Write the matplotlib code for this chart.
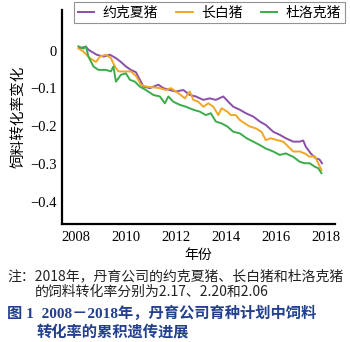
import matplotlib
matplotlib.use("Agg")
import matplotlib.pyplot as plt

# 饲料转化率累积遗传进展
yr_york = [2008.12, 2008.4, 2008.5, 2008.83, 2009.1, 2009.36, 2009.6, 2009.8, 2010.0, 2010.2,
           2010.4, 2010.56, 2010.7, 2010.96, 2011.3, 2011.5, 2011.76, 2012.0, 2012.3, 2012.56,
           2012.8, 2013.1, 2013.36, 2013.6, 2013.9, 2014.1, 2014.3, 2014.56, 2014.8, 2015.1,
           2015.36, 2015.6, 2015.9, 2016.16, 2016.4, 2016.7, 2016.96, 2017.1, 2017.2, 2017.4,
           2017.6, 2017.75, 2017.85]
val_york = [0.006, 0.010, 0.002, -0.011, -0.016, -0.011, -0.020, -0.030, -0.042, -0.051,
            -0.057, -0.077, -0.095, -0.099, -0.090, -0.099, -0.104, -0.108, -0.104, -0.117,
            -0.121, -0.130, -0.126, -0.130, -0.121, -0.135, -0.148, -0.156, -0.165, -0.174,
            -0.187, -0.196, -0.214, -0.222, -0.231, -0.240, -0.240, -0.237, -0.253, -0.271,
            -0.284, -0.287, -0.297]

yr_land = [2008.1, 2008.3, 2008.56, 2008.8, 2008.96, 2009.2, 2009.4, 2009.56, 2009.7, 2009.96,
           2010.2, 2010.43, 2010.6, 2010.8, 2011.1, 2011.36, 2011.6, 2011.8, 2012.0, 2012.2,
           2012.36, 2012.56, 2012.7, 2012.9, 2013.1, 2013.3, 2013.5, 2013.7, 2013.83, 2014.06,
           2014.2, 2014.4, 2014.56, 2014.76, 2014.96, 2015.2, 2015.43, 2015.6, 2015.8, 2016.06,
           2016.3, 2016.5, 2016.7, 2016.96, 2017.16, 2017.36, 2017.56, 2017.7, 2017.83]
val_land = [0.006, -0.003, -0.020, -0.030, -0.016, -0.011, -0.020, -0.042, -0.055, -0.055,
            -0.055, -0.069, -0.090, -0.095, -0.097, -0.099, -0.104, -0.099, -0.108, -0.117,
            -0.126, -0.108, -0.130, -0.135, -0.148, -0.139, -0.148, -0.170, -0.152, -0.161,
            -0.170, -0.170, -0.183, -0.192, -0.200, -0.205, -0.214, -0.236, -0.231, -0.236,
            -0.240, -0.253, -0.266, -0.266, -0.271, -0.280, -0.278, -0.297, -0.315]

yr_duroc = [2008.1, 2008.3, 2008.4, 2008.5, 2008.7, 2008.9, 2009.2, 2009.4, 2009.5, 2009.6,
            2009.8, 2010.0, 2010.16, 2010.36, 2010.56, 2010.8, 2011.1, 2011.36, 2011.56, 2011.7,
            2011.9, 2012.16, 2012.4, 2012.7, 2012.96, 2013.2, 2013.4, 2013.6, 2013.83, 2014.06,
            2014.3, 2014.56, 2014.83, 2015.1, 2015.36, 2015.6, 2015.9, 2016.16, 2016.4, 2016.7,
            2016.96, 2017.16, 2017.36, 2017.56, 2017.7, 2017.83]
val_duroc = [0.011, 0.005, 0.011, -0.016, -0.042, -0.051, -0.051, -0.055, -0.042, -0.082,
             -0.064, -0.060, -0.077, -0.082, -0.095, -0.104, -0.117, -0.121, -0.139, -0.121,
             -0.135, -0.143, -0.148, -0.156, -0.161, -0.170, -0.165, -0.187, -0.192, -0.200,
             -0.214, -0.218, -0.231, -0.240, -0.249, -0.258, -0.266, -0.275, -0.271, -0.280,
             -0.293, -0.297, -0.297, -0.306, -0.310, -0.323]

names = ["约克夏猪", "长白猪", "杜洛克猪"]
colors = ["#8a4fa8", "#f0a824", "#3cac4a"]
x_ticks = [2008, 2010, 2012, 2014, 2016, 2018]
y_ticks = [0, -0.1, -0.2, -0.3, -0.4]

cjk = ["Noto Sans CJK SC", "DejaVu Sans"]
serif = ["Liberation Serif", "Noto Sans CJK SC"]

fig = plt.figure(figsize=(3.5, 3.42), dpi=100)
ax = fig.add_axes([0.177, 0.345, 0.78, 0.626])

series = [(yr_york, val_york), (yr_land, val_land), (yr_duroc, val_duroc)]
for (xs, ys), nm, c in zip(series, names, colors):
    ax.plot(xs, ys, color=c, lw=1.4, label=nm)

ax.set_xlim(2007.44, 2018.37)
ax.set_ylim(-0.457, 0.107)
ax.set_xticks(x_ticks)
ax.set_yticks(y_ticks)
ax.set_xticklabels([str(t) for t in x_ticks], family=serif, fontsize=10.5)
ax.set_yticklabels(["0" if t == 0 else "\u2212%.1f" % abs(t) for t in y_ticks],
                   family=serif, fontsize=10.5)
ax.tick_params(axis="y", length=0, pad=4)
ax.tick_params(axis="x", length=0, pad=5)
for s in ["top", "right"]:
    ax.spines[s].set_visible(False)
for s in ["left", "bottom"]:
    ax.spines[s].set_linewidth(1.6)

ax.set_xlabel("年份", family=cjk, fontsize=10, labelpad=3)
ax.set_ylabel("饲料转化率变化", family=cjk, fontsize=10.5, labelpad=3)

leg = ax.legend(loc="upper center", bbox_to_anchor=(0.54, 1.035), ncol=3,
                prop={"family": cjk, "size": 10}, frameon=True, fancybox=False,
                handlelength=1.2, handletextpad=0.6, columnspacing=1.3,
                borderpad=0.25, borderaxespad=0)
leg.get_frame().set_edgecolor("#777777")
leg.get_frame().set_linewidth(0.8)

fig.text(0.02, 1 - 276 / 342, "注：2018年，丹育公司的约克夏猪、长白猪和杜洛克猪",
         family=cjk, fontsize=10, va="center", color="#222222")
fig.text(0.10, 1 - 292 / 342, "的饲料转化率分别为2.17、2.20和2.06",
         family=cjk, fontsize=10, va="center", color="#222222")
fig.text(0.02, 1 - 313 / 342, "图 1  2008－2018年，丹育公司育种计划中饲料",
         family=serif, fontsize=11, va="center", color="#23408e", fontweight="bold")
fig.text(0.105, 1 - 332 / 342, "转化率的累积遗传进展",
         family=serif, fontsize=11, va="center", color="#23408e", fontweight="bold")

fig.savefig("out.png", dpi=100)
